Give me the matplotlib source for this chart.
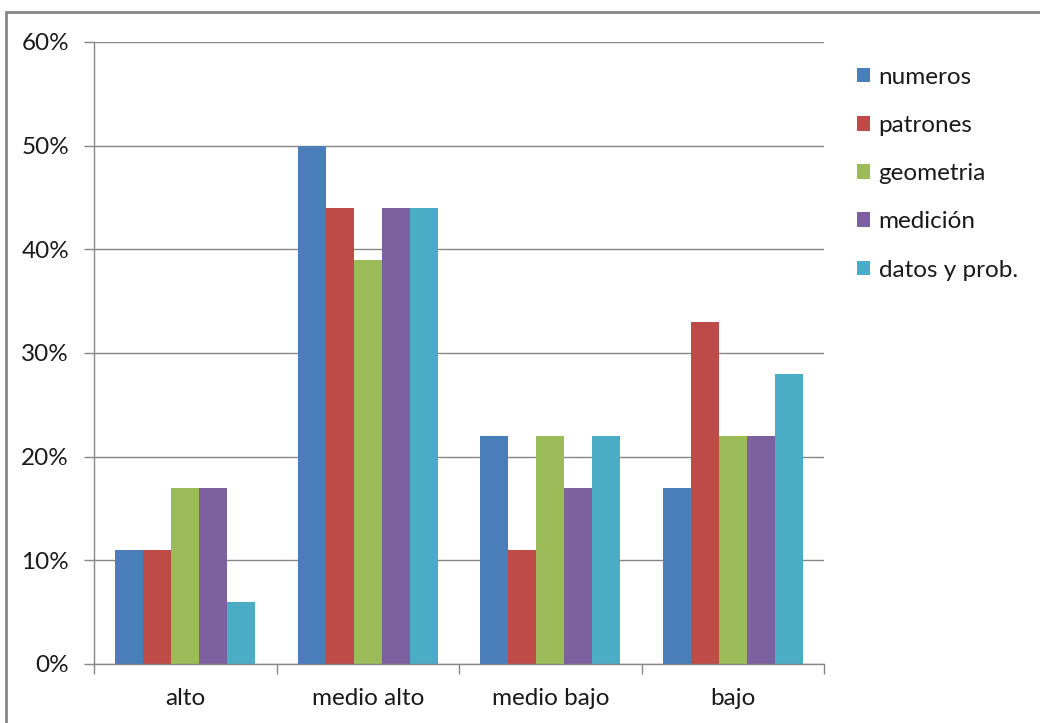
import numpy as np
import matplotlib
matplotlib.use("Agg")
import matplotlib.pyplot as plt
from matplotlib.patches import Rectangle, Patch
from matplotlib.ticker import PercentFormatter

# Datos del gráfico
niveles = ["alto", "medio alto", "medio bajo", "bajo"]
series = ["numeros", "patrones", "geometria", "medición", "datos y prob."]
numeros = [11, 50, 22, 17]
patrones = [11, 44, 11, 33]
geometria = [17, 39, 22, 22]
medicion = [17, 44, 17, 22]
datos_prob = [6, 44, 22, 28]
colores = ["#4A7EBB", "#BE4B48", "#9BBB59", "#7D60A0", "#4BACC6"]

valores = [numeros, patrones, geometria, medicion, datos_prob]

plt.rcParams["font.family"] = ["Lato", "DejaVu Sans"]
gris = "#868686"
fs = 17.5

fig = plt.figure(figsize=(10.4, 7.23), dpi=100)
ax = fig.add_axes([94 / 1040, 1 - 664 / 723, (824 - 94) / 1040, (664 - 42) / 723])

x = np.arange(len(niveles))
ancho = 1 / (len(series) + 1.5)
for i, (nombre, vals) in enumerate(zip(series, valores)):
    desp = (i - (len(series) - 1) / 2) * ancho
    ax.bar(x + desp, vals, width=ancho, color=colores[i], label=nombre, zorder=3)

ax.set_xlim(-0.5, len(niveles) - 0.5)
ax.set_ylim(0, 60)
ax.set_yticks(range(0, 61, 10))
ax.yaxis.set_major_formatter(PercentFormatter(decimals=0))
ax.grid(axis="y", color=gris, linewidth=1, zorder=0)

ax.set_xticks(x)
ax.set_xticklabels(niveles)
ax.set_xticks(np.arange(-0.5, len(niveles)), minor=True)
ax.tick_params(axis="x", which="major", length=0, pad=17, labelsize=fs, colors="#1a1a1a")
ax.tick_params(axis="x", which="minor", length=7, width=1, color=gris, direction="out")
ax.tick_params(axis="y", length=7, width=1, color=gris, pad=11, labelsize=fs,
               labelcolor="#1a1a1a")

for lado in ["top", "right"]:
    ax.spines[lado].set_visible(False)
for lado in ["left", "bottom"]:
    ax.spines[lado].set_color(gris)
    ax.spines[lado].set_linewidth(1)
    ax.spines[lado].set_zorder(4)

handles = [Patch(facecolor=c, edgecolor="none") for c in colores]
fig.legend(handles, series, loc="upper left", bbox_to_anchor=(847 / 1040, 1 - 57 / 723),
           frameon=False, fontsize=fs, labelspacing=1.12, handlelength=0.55,
           handleheight=0.55, handletextpad=0.35, borderaxespad=0,
           labelcolor="#1a1a1a")

# borde del gráfico
fig.patches.append(Rectangle((6 / 1040, -0.05), 1.1, 1 - 12 / 723 + 0.05,
                             transform=fig.transFigure, fill=False,
                             edgecolor=gris, linewidth=2))

fig.savefig("out.png", dpi=100)
